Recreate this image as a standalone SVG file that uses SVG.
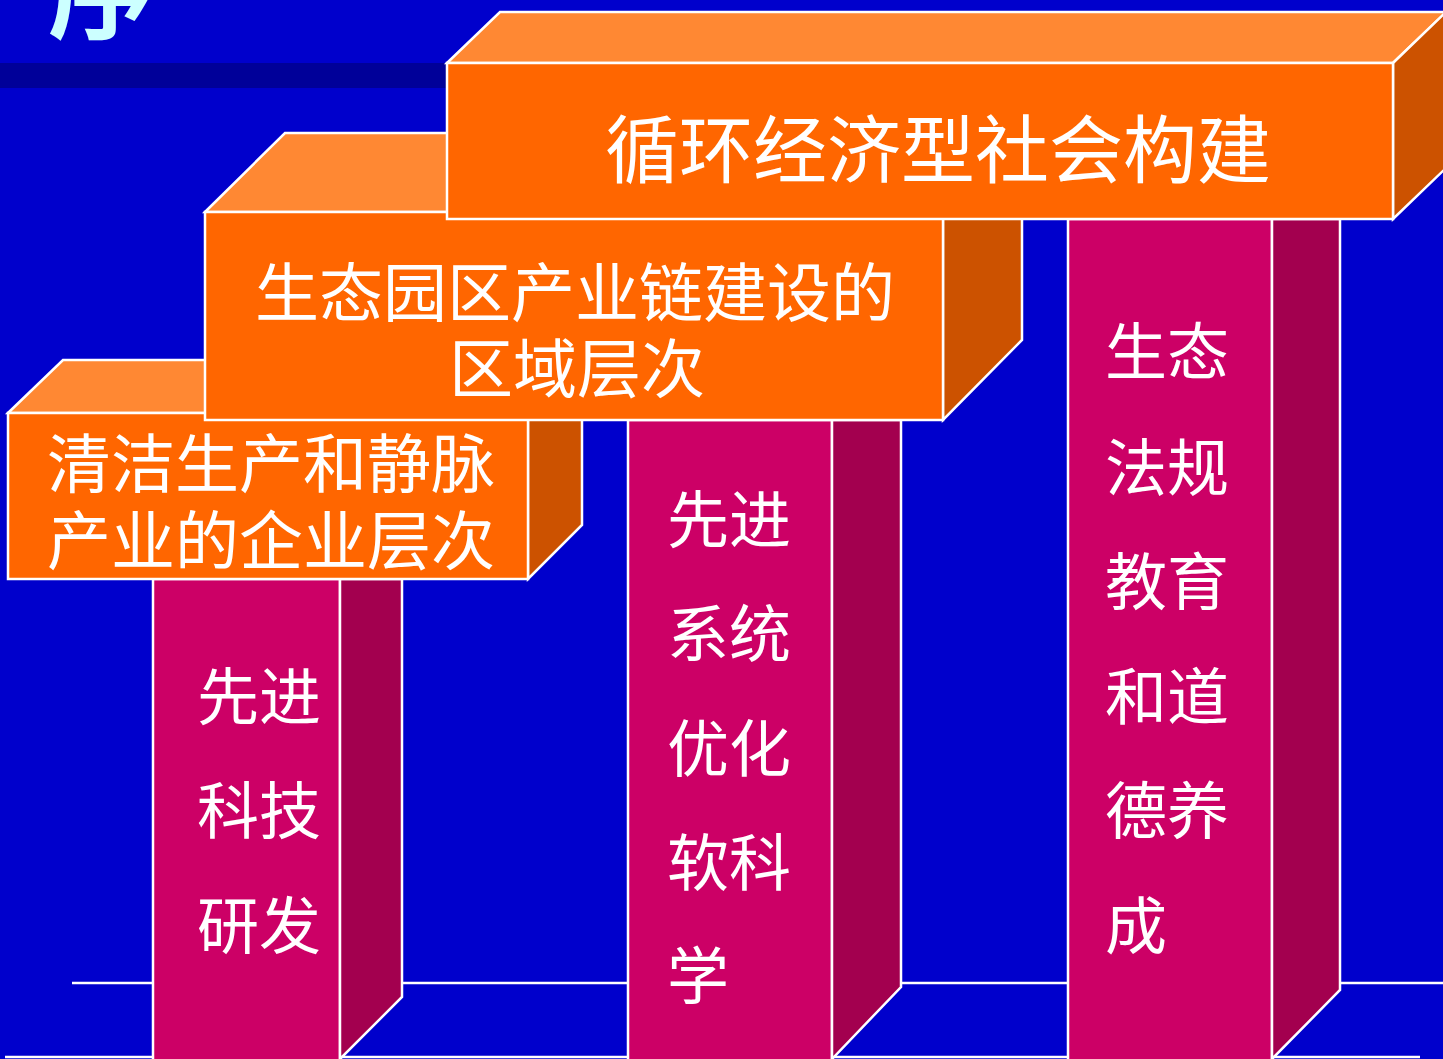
<svg xmlns="http://www.w3.org/2000/svg" width="1443" height="1059" viewBox="0 0 1443 1059">
<style>
.ln{stroke:#FFFFFF;stroke-width:2.5;fill:none}
.fr{fill:#FF6600;stroke:#FFFFFF;stroke-width:2.5}
.tp{fill:#FF8833;stroke:#FFFFFF;stroke-width:2.5;stroke-linejoin:miter}
.sd{fill:#CC5200;stroke:#FFFFFF;stroke-width:2.5}
.pf{fill:#CC0066;stroke:#FFFFFF;stroke-width:2.5}
.ps{fill:#A3004F;stroke:#FFFFFF;stroke-width:2.5}
.t{font-family:"Liberation Serif","Noto Sans CJK SC",serif;fill:#FFFFFF}
.big{font-size:74px}
.mid{font-size:64px}
.col{font-size:62px}
</style>
<rect x="0" y="0" width="1443" height="1059" fill="#0000CC"/>
<rect x="0" y="63" width="450" height="25" fill="#000099"/>
<text x="48" y="30" style="font-family:'Noto Sans CJK SC',sans-serif;font-weight:bold;font-size:105px;fill:#CCFFFF">序</text>
<g id="connectors">
<line class="ln" x1="72" y1="983" x2="160" y2="983"/>
<line class="ln" x1="400" y1="983" x2="630" y2="983"/>
<line class="ln" x1="900" y1="983" x2="1070" y2="983"/>
<line class="ln" x1="1338" y1="983" x2="1443" y2="983"/>
<line class="ln" x1="5" y1="1057" x2="1420" y2="1057"/>
</g>
<g id="pillar1">
<rect class="pf" x="153" y="579" width="187" height="482"/>
<polygon class="ps" points="340,579 402,579 402,997 340,1059"/>
<text class="t col" x="197" y="720">先进</text>
<text class="t col" x="197" y="834">科技</text>
<text class="t col" x="197" y="949">研发</text>
</g>
<g id="pillar2">
<rect class="pf" x="628" y="420" width="204" height="641"/>
<polygon class="ps" points="832,420 901,420 901,987 832,1059"/>
<text class="t col" x="667" y="543">先进</text>
<text class="t col" x="667" y="657">系统</text>
<text class="t col" x="667" y="772">优化</text>
<text class="t col" x="667" y="886">软科</text>
<text class="t col" x="667" y="999">学</text>
</g>
<g id="pillar3">
<rect class="pf" x="1068" y="219" width="204" height="842"/>
<polygon class="ps" points="1272,219 1340,219 1340,990 1272,1059"/>
<text class="t col" x="1105" y="375">生态</text>
<text class="t col" x="1105" y="491">法规</text>
<text class="t col" x="1105" y="605">教育</text>
<text class="t col" x="1105" y="720">和道</text>
<text class="t col" x="1105" y="834">德养</text>
<text class="t col" x="1105" y="949">成</text>
</g>
<g id="box-enterprise">
<polygon class="tp" points="8,413 63,360 582,360 528,413"/>
<polygon class="sd" points="528,413 582,360 582,525 528,579"/>
<rect class="fr" x="8" y="413" width="520" height="166"/>
<text class="t mid" x="271" y="487" text-anchor="middle">清洁生产和静脉</text>
<text class="t mid" x="271" y="564" text-anchor="middle">产业的企业层次</text>
</g>
<g id="box-region">
<polygon class="tp" points="205,212 285,133 1022,133 943,212"/>
<polygon class="sd" points="943,212 1022,133 1022,340 943,420"/>
<rect class="fr" x="205" y="212" width="738" height="208"/>
<text class="t mid" x="575" y="316" text-anchor="middle">生态园区产业链建设的</text>
<text class="t mid" x="577" y="392" text-anchor="middle">区域层次</text>
</g>
<g id="box-society">
<polygon class="tp" points="447,63 500,12 1446,12 1393,63"/>
<polygon class="sd" points="1393,63 1446,12 1446,168 1393,219"/>
<rect class="fr" x="447" y="63" width="946" height="156"/>
<text class="t big" x="938" y="177" text-anchor="middle">循环经济型社会构建</text>
</g>
</svg>
